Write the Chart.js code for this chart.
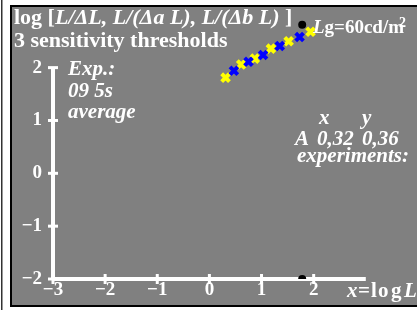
<!DOCTYPE html>
<html>
<head>
<meta charset="utf-8">
<script src="https://cdn.jsdelivr.net/npm/chart.js@4"></script>
<style>
  html, body { margin: 0; padding: 0; background: #fff; overflow: hidden; }
  canvas { display: block; }
</style>
</head>
<body>
<canvas id="chart" width="417" height="310"></canvas>
<script>
// tick values
const xTicks = [-3, -2, -1, 0, 1, 2];
const yTicks = [-2, -1, 0, 1, 2];

// experiment points (log L, log threshold ratio)
const yellowX = [0.31, 0.61, 0.87, 1.18, 1.52, 1.94];
const yellowY = [1.81, 2.06, 2.17, 2.36, 2.50, 2.68];
const blueX = [0.47, 0.75, 1.03, 1.35, 1.73];
const blueY = [1.94, 2.11, 2.24, 2.41, 2.58];

// reference luminance Lg = 60 cd/m2
const refX = [1.78, 1.78];
const refY = [2.81, -2];

const SERIF = '"Liberation Serif", "Times New Roman", serif';
const B22 = 'bold 22px ' + SERIF;
const BI22 = 'italic bold 22px ' + SERIF;
const BI = 'italic bold 21px ' + SERIF;
const B = 'bold 21px ' + SERIF;

function toPts(xs, ys) {
  return xs.map((x, i) => ({ x: x, y: ys[i] }));
}

function fmt(v) {
  return v < 0 ? '\u2212' + Math.abs(v) : String(v);
}

function runs(ctx, x, y, parts) {
  parts.forEach(p => {
    ctx.font = p[1];
    ctx.fillText(p[0], x, y);
    x += ctx.measureText(p[0]).width;
  });
}

function noPad(s) {
  s.paddingTop = 0;
  s.paddingBottom = 0;
  s.paddingLeft = 0;
  s.paddingRight = 0;
}

const framePlugin = {
  id: 'frame',
  beforeDraw(chart) {
    const ctx = chart.ctx;
    ctx.save();
    ctx.fillStyle = '#fff';
    ctx.fillRect(0, 0, 417, 310);
    ctx.fillStyle = '#333';
    ctx.fillRect(1, 0, 1.5, 310);
    ctx.fillStyle = '#808080';
    ctx.fillRect(12, 7, 405, 298);
    ctx.fillStyle = '#000';
    ctx.fillRect(10, 5, 407, 2);
    ctx.fillRect(10, 5, 2, 302);
    ctx.fillRect(10, 305, 407, 2);
    ctx.restore();
  }
};

// axis lines from -3..3 / -2..2 with ticks crossing the line
const axisPlugin = {
  id: 'crossAxes',
  beforeDatasetsDraw(chart) {
    const ctx = chart.ctx;
    const xs = chart.scales.x, ys = chart.scales.y;
    const x0 = xs.getPixelForValue(xTicks[0]);
    const y0 = ys.getPixelForValue(yTicks[0]);
    ctx.save();
    ctx.strokeStyle = '#fff';
    ctx.lineWidth = 4;
    ctx.beginPath();
    ctx.moveTo(x0, y0);
    ctx.lineTo(xs.getPixelForValue(3), y0);
    ctx.moveTo(x0, y0);
    ctx.lineTo(x0, ys.getPixelForValue(yTicks[yTicks.length - 1]));
    ctx.stroke();
    ctx.lineWidth = 3;
    xTicks.forEach(v => {
      const px = xs.getPixelForValue(v);
      ctx.beginPath();
      ctx.moveTo(px, y0 - 5);
      ctx.lineTo(px, y0 + 5);
      ctx.stroke();
    });
    yTicks.forEach(v => {
      const py = ys.getPixelForValue(v);
      ctx.beginPath();
      ctx.moveTo(x0 - 5, py);
      ctx.lineTo(x0 + 5, py);
      ctx.stroke();
    });
    ctx.restore();
  }
};

const textPlugin = {
  id: 'texts',
  afterDraw(chart) {
    const ctx = chart.ctx;
    ctx.save();
    ctx.fillStyle = '#fff';
    ctx.textBaseline = 'alphabetic';
    ctx.textAlign = 'left';
    runs(ctx, 14, 24, [['log [', B22], ['L/\u0394L, L/(\u0394a L), L/(\u0394b L)', BI22], [' ]', B22]]);
    runs(ctx, 14, 47, [['3 sensitivity thresholds', B22]]);
    runs(ctx, 313, 33, [['L', 'italic bold 19px ' + SERIF], ['g=60cd/m', 'bold 19px ' + SERIF]]);
    ctx.font = 'bold 14px ' + SERIF;
    ctx.fillText('2', 399, 27);
    ctx.font = BI;
    ctx.fillText('Exp.:', 68, 75);
    ctx.fillText('09 5s', 68, 97);
    ctx.fillText('average', 68, 118);
    ctx.fillText('x', 319, 124);
    ctx.fillText('y', 362, 124);
    ctx.fillText('A', 295, 145);
    ctx.fillText('0,32', 317, 145);
    ctx.fillText('0,36', 362, 145);
    ctx.fillText('experiments:', 297, 162);
    ctx.fillText('x', 347, 297);
    ctx.fillText('L', 404, 297);
    ctx.font = B;
    ctx.fillText('=', 358, 297);
    ctx.fillText('l', 371, 297);
    ctx.fillText('o', 378, 297);
    ctx.fillText('g', 391, 297);
    ctx.restore();
  }
};

const axisFont = { family: SERIF, size: 19, weight: 'bold' };

new Chart(document.getElementById('chart').getContext('2d'), {
  type: 'scatter',
  data: {
    datasets: [
      {
        data: toPts(blueX, blueY),
        pointStyle: 'crossRot',
        pointRadius: 5.5,
        borderWidth: 4,
        borderColor: '#0000ff',
        backgroundColor: '#0000ff'
      },
      {
        data: toPts(yellowX, yellowY),
        pointStyle: 'crossRot',
        pointRadius: 5.5,
        borderWidth: 4,
        borderColor: '#ffff00',
        backgroundColor: '#ffff00'
      },
      {
        data: toPts(refX, refY),
        pointStyle: 'circle',
        pointRadius: 4,
        borderWidth: 0,
        backgroundColor: '#000'
      }
    ]
  },
  options: {
    responsive: false,
    animation: false,
    events: [],
    layout: { padding: { left: 0, right: 0, top: 7, bottom: 0 } },
    plugins: {
      legend: { display: false },
      tooltip: { enabled: false }
    },
    scales: {
      x: {
        type: 'linear',
        min: -3,
        max: 3.8,
        afterBuildTicks: s => { s.ticks = xTicks.map(v => ({ value: v })); },
        afterFit: s => { s.height = 31; noPad(s); },
        grid: { display: false, drawTicks: false },
        border: { display: false },
        ticks: { color: '#fff', font: axisFont, padding: 0, maxRotation: 0, autoSkip: false, callback: fmt }
      },
      y: {
        type: 'linear',
        min: -2,
        max: 3.1,
        afterBuildTicks: s => { s.ticks = yTicks.map(v => ({ value: v })); },
        afterFit: s => { s.width = 53; noPad(s); },
        grid: { display: false, drawTicks: false },
        border: { display: false },
        ticks: { color: '#fff', font: axisFont, padding: 11, autoSkip: false, callback: fmt }
      }
    }
  },
  plugins: [framePlugin, axisPlugin, textPlugin]
});
</script>
</body>
</html>
